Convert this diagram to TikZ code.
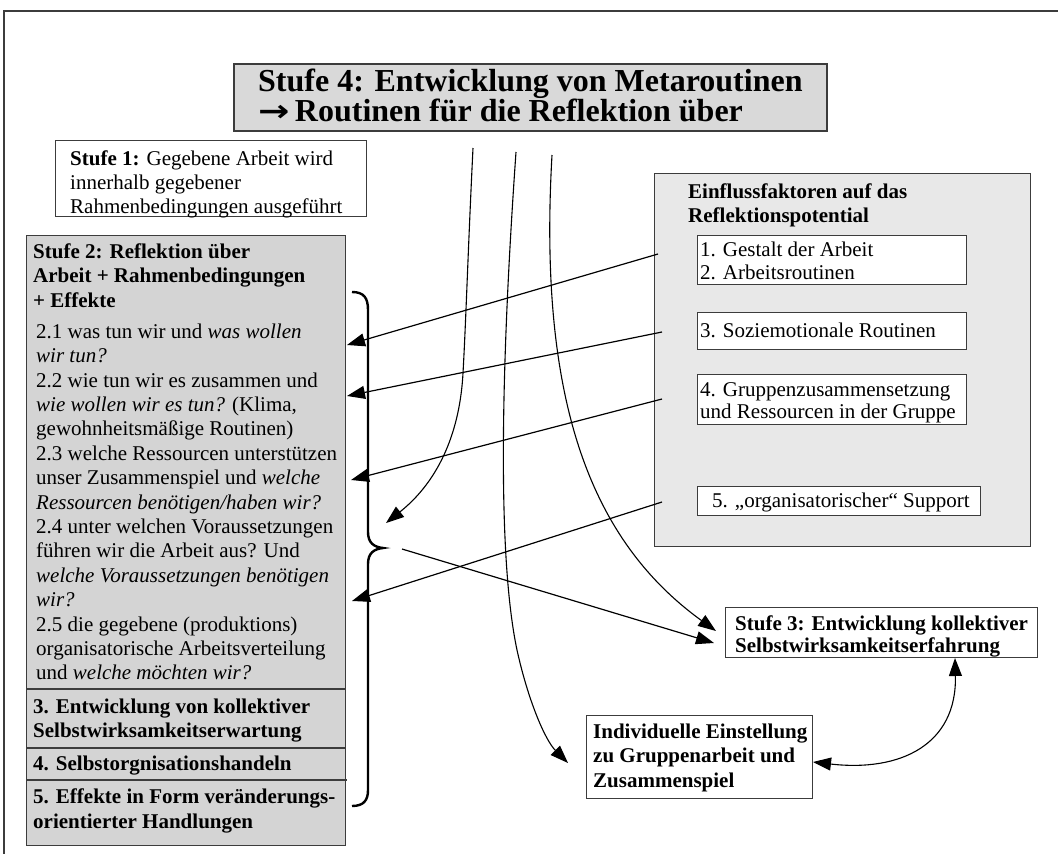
\documentclass[tikz,border=0pt]{standalone}
\usepackage{fontspec}
\usepackage{graphicx}
\setmainfont{Liberation Serif}
\newfontfamily\arrowfont{DejaVu Sans}
\usetikzlibrary{arrows.meta}
\definecolor{boxgray}{RGB}{212,212,212}
\definecolor{titlegray}{RGB}{217,217,217}
\definecolor{panelgray}{RGB}{232,232,232}
\definecolor{edgegray}{RGB}{60,60,60}
\begin{document}
\begin{tikzpicture}[x=1pt,y=-1pt,
  box/.style={draw=edgegray, line width=1.1pt, inner sep=0pt, anchor=north west},
  txt/.style={inner sep=0pt, anchor=north west, align=left, font=\fontsize{21}{24.4}\selectfont},
  conn/.style={line width=1.2pt, -{Triangle[length=18pt,width=13pt]}},
  curv/.style={line width=1.1pt}
]
\useasboundingbox (0,0) rectangle (1058,854);
\fill[white] (0,0) rectangle (1058,854);
% frame
\draw[edgegray, line width=2pt] (3,11) -- (1058,11);
\draw[edgegray, line width=1.2pt] (4,11) -- (4,854);

% title box
\node[box, fill=titlegray, line width=1.6pt, minimum width=593, minimum height=67] (t4) at (233,63) {};
\node[txt, font=\fontsize{32}{28}\selectfont\bfseries] (t4txt) at (258,91-24)
  {\rule{0pt}{24pt}Stufe 4: Entwicklung von Metaroutinen\\
   {\arrowfont\fontsize{30}{28}\selectfont\scalebox{1.25}[1]{→}}\,Routinen für die Reflektion über};

% Stufe 1
\node[box, fill=white, minimum width=311, minimum height=76] (s1) at (55,140) {};
\node[txt, font=\fontsize{21}{24}\selectfont] (s1txt) at (70,165-20)
  {\rule{0pt}{20pt}\textbf{Stufe 1:} Gegebene Arbeit wird\\innerhalb gegebener\\Rahmenbedingungen ausgeführt};

% Stufe 2 column
\node[box, fill=boxgray, minimum width=319, minimum height=610] (s2) at (26,235) {};
\node[txt, font=\fontsize{21}{24.5}\selectfont\bfseries] (s2head) at (33,258-20)
  {\rule{0pt}{20pt}Stufe 2: Reflektion über\\Arbeit + Rahmenbedingungen\\+ Effekte};
\node[txt] (s2items) at (36,338-20)
  {\rule{0pt}{20pt}2.1 was tun wir und \textit{was wollen}\\
   \textit{wir tun?}\\
   2.2 wie tun wir es zusammen und\\
   \textit{wie wollen wir es tun?} (Klima,\\
   gewohnheitsmäßige Routinen)\\
   2.3 welche Ressourcen unterstützen\\
   unser Zusammenspiel und \textit{welche}\\
   \textit{Ressourcen benötigen/haben wir?}\\
   2.4 unter welchen Voraussetzungen\\
   führen wir die Arbeit aus? Und\\
   \textit{welche Voraussetzungen benötigen}\\
   \textit{wir?}\\
   2.5 die gegebene (produktions)\\
   organisatorische Arbeitsverteilung\\
   und \textit{welche möchten wir?}};
\draw[edgegray, line width=1.1pt] (26,689) -- (345,689);
\draw[edgegray, line width=1.1pt] (26,748) -- (345,748);
\draw[edgegray, line width=1.1pt] (26,780) -- (347,780);
\node[txt, font=\fontsize{21}{24}\selectfont\bfseries] (sec3) at (33,713-20)
  {\rule{0pt}{20pt}3. Entwicklung von kollektiver\\Selbstwirksamkeitserwartung};
\node[txt, font=\fontsize{21}{24}\selectfont\bfseries] (sec4) at (33,770-20)
  {\rule{0pt}{20pt}4. Selbstorgnisationshandeln};
\node[txt, font=\fontsize{21}{25}\selectfont\bfseries] (sec5) at (33,803-20)
  {\rule{0pt}{20pt}5. Effekte in Form veränderungs-\\orientierter Handlungen};

% brace
\draw[line width=2.4pt] (352,292) .. controls (364,292) and (368,298) .. (368,310)
  -- (368,532) .. controls (368,543) and (374,547) .. (383,548)
  .. controls (374,549) and (368,553) .. (368,564)
  -- (368,790) .. controls (368,800) and (364,806) .. (352,806);

% Einflussfaktoren panel
\node[box, fill=panelgray, minimum width=376, minimum height=373] (ein) at (654,173) {};
\node[txt, font=\fontsize{21}{24}\selectfont\bfseries] (eintxt) at (688,198-20)
  {\rule{0pt}{20pt}Einflussfaktoren auf das\\Reflektionspotential};
\node[box, fill=white, minimum width=269, minimum height=49] (f12) at (697,235) {};
\node[txt, font=\fontsize{21}{23}\selectfont] (f12txt) at (700,256-20)
  {\rule{0pt}{20pt}1. Gestalt der Arbeit\\2. Arbeitsroutinen};
\node[box, fill=white, minimum width=269, minimum height=37] (f3) at (697,312) {};
\node[txt] (f3txt) at (700,337-20) {\rule{0pt}{20pt}3. Soziemotionale Routinen};
\node[box, fill=white, minimum width=269, minimum height=50] (f4) at (697,374) {};
\node[txt, font=\fontsize{21}{22}\selectfont] (f4txt) at (700,396-20)
  {\rule{0pt}{20pt}4. Gruppenzusammensetzung\\und Ressourcen in der Gruppe};
\node[box, fill=white, minimum width=283, minimum height=29] (f5) at (697,486) {};
\node[txt] (f5txt) at (712,507-20) {\rule{0pt}{20pt}5. „organisatorischer“ Support};

% Stufe 3
\node[box, fill=white, minimum width=312, minimum height=50] (s3) at (725,607) {};
\node[txt, font=\fontsize{21}{22}\selectfont\bfseries] (s3txt) at (735,630-20)
  {\rule{0pt}{20pt}Stufe 3: Entwicklung kollektiver\\Selbstwirksamkeitserfahrung};

% Individuelle Einstellung
\node[box, fill=white, minimum width=226, minimum height=83] (ind) at (586,715) {};
\node[txt, font=\fontsize{21}{24.5}\selectfont\bfseries] (indtxt) at (593,738-20)
  {\rule{0pt}{20pt}Individuelle Einstellung\\zu Gruppenarbeit und\\Zusammenspiel};

% named connector ends
\coordinate (p1) at (658,254);  \coordinate (q1) at (347,345);
\coordinate (p2) at (662,332);  \coordinate (q2) at (347,396);
\coordinate (p3) at (662,399);  \coordinate (q3) at (351,480);
\coordinate (p5) at (662,502);  \coordinate (q5) at (352,601);
\coordinate (bt) at (402,549);  \coordinate (s3in) at (714,643);
\coordinate (s3in2) at (716,631);
\coordinate (cA) at (473,148);  \coordinate (cAend) at (386,523);
\coordinate (cB) at (516,152);  \coordinate (cBend) at (568,763);
\coordinate (cC) at (552,155);
\coordinate (s3b) at (955,658); \coordinate (indr) at (813,762);

\draw[conn] (p1) -- (q1);
\draw[conn] (p2) -- (q2);
\draw[conn] (p3) -- (q3);
\draw[conn] (p5) -- (q5);
\draw[conn] (bt) -- (s3in);

\draw[curv, -{Triangle[length=18pt,width=13pt]}] (cA) .. controls (468,250) and (466,320) .. (463,373)
  .. controls (460,430) and (440,480) .. (cAend);
\draw[curv, -{Triangle[length=18pt,width=13pt]}] (cB) .. controls (500,380) and (498,560) .. (517,650)
  .. controls (528,700) and (545,740) .. (cBend);
\draw[curv, -{Triangle[length=18pt,width=13pt]}] (cC) .. controls (538,400) and (590,540) .. (s3in2);
\draw[curv, {Triangle[length=18pt,width=13pt]}-{Triangle[length=18pt,width=13pt]}] (s3b) .. controls (957,745) and (900,772) .. (indr);
\end{tikzpicture}
\end{document}
